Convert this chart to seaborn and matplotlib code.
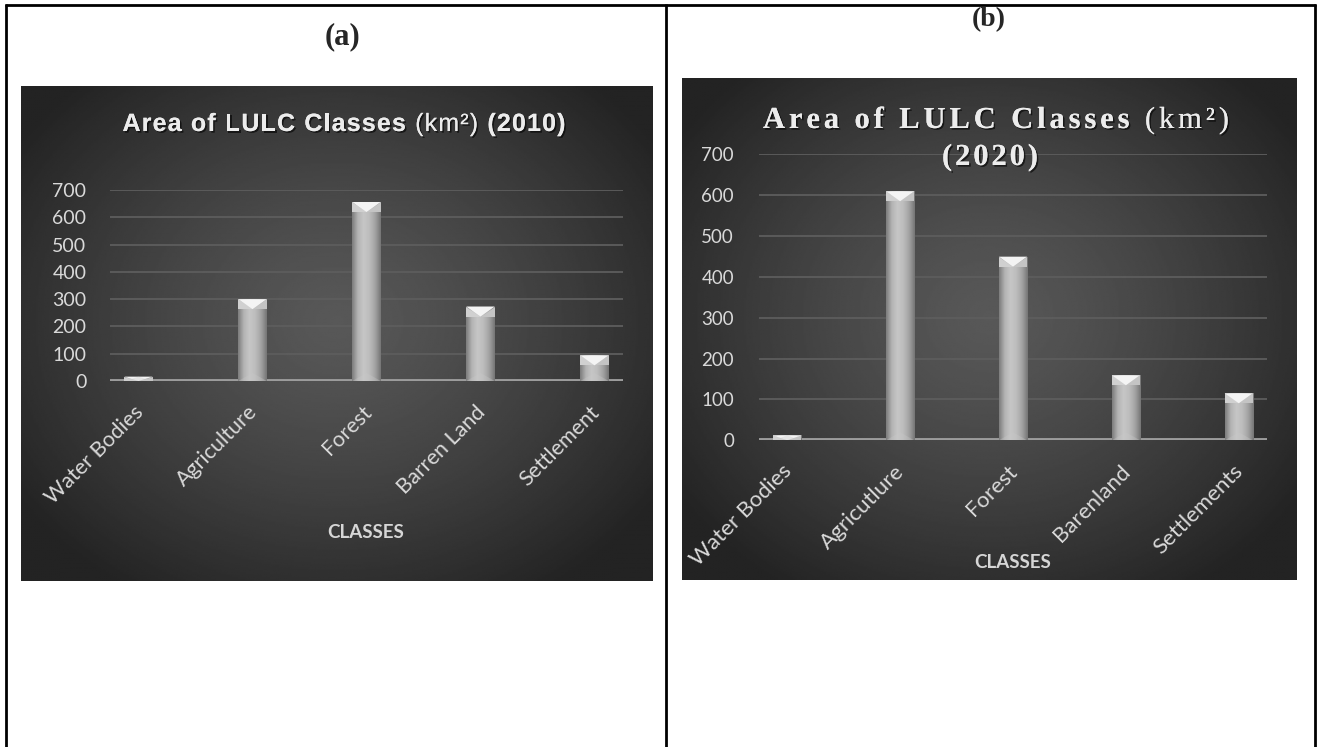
import numpy as np
import pandas as pd
import matplotlib
matplotlib.use("Agg")
import matplotlib.pyplot as plt
import seaborn as sns
from matplotlib.lines import Line2D
from matplotlib.patches import Polygon
from matplotlib.colors import LinearSegmentedColormap
from matplotlib.font_manager import FontProperties, findfont
from matplotlib.ft2font import FT2Font
from matplotlib.transforms import ScaledTranslation
import matplotlib.patheffects as pe

# ---------------- data ----------------
classes_2010 = ["Water Bodies", "Agriculture", "Forest", "Barren Land", "Settlement"]
area_2010 = [16, 300, 656, 273, 94]

classes_2020 = ["Water Bodies", "Agricutlure", "Forest", "Barenland", "Settlements"]
area_2020 = [12, 609, 449, 159, 115]

y_ticks = [0, 100, 200, 300, 400, 500, 600, 700]
x_axis_label = "CLASSES"

# ---------------- figure ----------------
W, H, DPI = 1318, 747, 100
sns.set_style("white")
plt.rcParams["font.family"] = ["Lato", "DejaVu Sans"]

fig = plt.figure(figsize=(W / DPI, H / DPI), dpi=DPI, facecolor="white")


def fxy(x, y):
    return x / W, 1 - y / H


def rect(x0, y0, x1, y1):
    return [x0 / W, 1 - y1 / H, (x1 - x0) / W, (y1 - y0) / H]


def tracked_text(cx, baseline, segments, family, width_px, color, shadow=True):
    """Centre a string on cx with extra letter spacing so it spans width_px."""
    items = []
    for text, weight, size in segments:
        fp = FontProperties(family=family, weight=weight, size=size)
        ft = FT2Font(findfont(fp))
        ft.set_size(size, 72)
        for ch in text:
            adv = ft.load_char(ord(ch)).linearHoriAdvance / 65536 * DPI / 72
            items.append((ch, fp, adv))
    natural = sum(a for _, _, a in items)
    n = len(items)
    track = (width_px - natural) / (n - 1)
    x = cx - (natural + track * (n - 1)) / 2
    effects = [pe.withSimplePatchShadow(offset=(1.2, -1.2), shadow_rgbFace="black", alpha=0.6),
               pe.Normal()] if shadow else None
    for ch, fp, adv in items:
        if ch != " ":
            fig.text(x / W, 1 - baseline / H, ch, fontproperties=fp, ha="left",
                     va="baseline", color=color, path_effects=effects)
        x += adv + track


# table frame around the two panels
frame = dict(color="black", lw=2.0, solid_capstyle="butt", transform=fig.transFigure)
for (x0, y0), (x1, y1) in [((5, 4.5), (1316, 4.5)), ((5.5, 4), (5.5, 747)),
                           ((666, 4), (666, 747)), ((1315, 4), (1315, 747))]:
    fig.add_artist(Line2D([x0 / W, x1 / W], [1 - y0 / H, 1 - y1 / H], **frame))

fig.text(*fxy(342, 37), "(a)", family="Liberation Serif", weight="bold", size=22,
         ha="center", va="center")
fig.text(*fxy(989, 20), "(b)", family="Liberation Serif", weight="bold", size=20,
         ha="center", va="center")

# radial dark backgrounds of the chart areas
def dark_panel(box):
    ax = fig.add_axes(rect(*box), zorder=0)
    yy, xx = np.mgrid[-1:1:300j, -1:1:400j]
    r = np.sqrt((xx * 0.95) ** 2 + ((yy + 0.05) * 0.9) ** 2)
    val = np.clip(0.345 - 0.17 * r ** 1.3, 0.14, 1)
    ax.imshow(val, cmap="gray", vmin=0, vmax=1, aspect="auto", extent=[0, 1, 0, 1],
              interpolation="bilinear")
    ax.set_axis_off()
    return ax


dark_panel((21, 86, 653, 581))
dark_panel((682, 78, 1297, 580))

bar_cmap = LinearSegmentedColormap.from_list(
    "bar", ["#7d7d7d", "#b4b4b4", "#c6c6c6", "#bdbdbd", "#a4a4a4", "#767676"])


def draw_chart(box, classes, values, tick_size, label_size, label_pad, tick_pad, shift_px):
    ax = fig.add_axes(rect(*box), zorder=2)
    ax.set_facecolor("none")
    df = pd.DataFrame({"cls": classes, "area": values})
    sns.barplot(data=df, x="cls", y="area", ax=ax, width=0.25, color="#b0b0b0",
                saturation=1, edgecolor="none", zorder=3)
    ax.set_xlim(-0.25, 4.25)
    ax.set_ylim(0, 700)
    ax.set_yticks(y_ticks)
    ax.yaxis.grid(True, color="#5d5d5d", lw=1.3, zorder=0)
    ax.xaxis.grid(False)
    ax.axhline(0, color="#9c9c9c", lw=2.8, zorder=2.5)
    for s in ax.spines.values():
        s.set_visible(False)
    ax.tick_params(axis="both", length=0, colors="#d9d9d9")
    ax.tick_params(axis="y", pad=tick_pad, labelsize=tick_size)
    ax.tick_params(axis="x", pad=label_pad, labelsize=label_size)
    ax.set_xlabel("")
    ax.set_ylabel("")
    ax.set_xticks(range(len(classes)))
    ax.set_xticklabels(classes, rotation=45, ha="right", rotation_mode="anchor")
    shift = ScaledTranslation(shift_px / DPI, 0, fig.dpi_scale_trans)
    for lab in ax.get_xticklabels():
        lab.set_transform(lab.get_transform() + shift)

    # bevelled look of each column
    px_per_unit = (box[3] - box[1]) / 700.0
    for p in ax.patches:
        x0, w, h = p.get_x(), p.get_width(), p.get_height()
        x1, xc = x0 + w, x0 + w / 2
        grad = np.linspace(0, 1, 64)[None, :]
        im = ax.imshow(grad, cmap=bar_cmap, extent=[x0, x1, 0, h], aspect="auto",
                       zorder=3.1, interpolation="bilinear")
        im.set_clip_path(p)
        d = min(10 / px_per_unit, h)
        ax.add_patch(Polygon([(x0, h), (x1, h), (xc, h - d)], closed=True,
                             facecolor="#f4f4f4", edgecolor="none", zorder=3.3))
        ax.add_patch(Polygon([(x0, h), (x0, h - d), (xc, h - d)], closed=True,
                             facecolor="#d0d0d0", edgecolor="none", zorder=3.2))
        ax.add_patch(Polygon([(x1, h), (x1, h - d), (xc, h - d)], closed=True,
                             facecolor="#c4c4c4", edgecolor="none", zorder=3.2))
        db = min(8 / px_per_unit, h)
        ax.add_patch(Polygon([(x0, 0), (x1, 0), (xc, db)], closed=True,
                             facecolor="#c8c8c8", alpha=0.35, edgecolor="none", zorder=3.3))
    ax.set_xlim(-0.25, 4.25)
    ax.set_ylim(0, 700)
    return ax


draw_chart((110, 190, 623, 381), classes_2010, area_2010, tick_size=14,
           label_size=15.5, label_pad=15, tick_pad=17, shift_px=-5)
draw_chart((759, 154, 1267, 440.3), classes_2020, area_2020, tick_size=13.5,
           label_size=16, label_pad=15, tick_pad=18, shift_px=-6)

# axis titles
fig.text(*fxy(366, 533), x_axis_label, color="#d6d6d6", size=13.5, weight="bold",
         ha="center", va="center")
fig.text(*fxy(1013, 562), x_axis_label, color="#d6d6d6", size=13.5, weight="bold",
         ha="center", va="center")

# chart titles
tracked_text(344, 131, [("Area of LULC Classes ", "bold", 18), ("(km²)", "normal", 18),
                        (" (2010)", "bold", 18)],
             "Liberation Sans", 443, "#ececec")
tracked_text(996, 128, [("Area of LULC Classes ", "bold", 22), ("(km²)", "normal", 22)],
             "Liberation Serif", 466, "#ececec")
tracked_text(990, 165, [("(2020)", "bold", 22)], "Liberation Serif", 96, "#ececec")

fig.savefig("out.png", dpi=DPI, facecolor="white")
